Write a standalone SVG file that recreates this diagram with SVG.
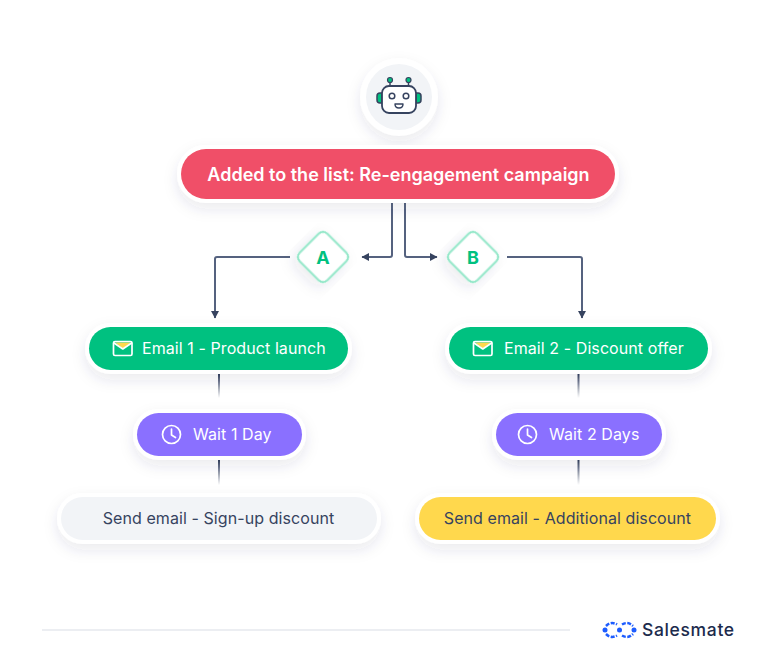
<svg xmlns="http://www.w3.org/2000/svg" width="776" height="669" viewBox="0 0 776 669">
<style>
text{font-family:Inter,"Noto Sans","Liberation Sans",sans-serif}
.pill{stroke:#fff;stroke-width:8;paint-order:stroke;filter:url(#sh)}
.w{fill:#fff;font-size:16px;letter-spacing:.08px}
.d{fill:#36435f;font-size:16px;letter-spacing:.08px}
.c{fill:none;stroke:#55627f;stroke-width:2}
.fade{fill:url(#fd)}
.dia{fill:#fff;stroke:#8de6c6;stroke-width:2;filter:url(#sh)}
.l{fill:#00c180;font-size:18px;font-weight:700;text-anchor:middle}
.ic{fill:none;stroke:#fff;stroke-width:1.7;stroke-linecap:round;stroke-linejoin:round}
</style>
<defs>
<filter id="sh" x="-20%" y="-50%" width="140%" height="220%"><feDropShadow dx="0" dy="6" stdDeviation="7" flood-color="#36435f" flood-opacity=".1"/></filter>
<linearGradient id="fd" x1="0" y1="0" x2="0" y2="1"><stop offset="0" stop-color="#2f3c5a"/><stop offset="1" stop-color="#2f3c5a" stop-opacity="0"/></linearGradient>
<marker id="a" markerWidth="8" markerHeight="8" refX="7" refY="4" orient="auto" markerUnits="userSpaceOnUse"><path d="M0 0L7.500 4L0 8Z" fill="#36435f"/></marker>
</defs>
<g id="connectors">
<path class="c" d="M392 203V255a2 2 0 0 1-2 2H362" marker-end="url(#a)"/>
<path class="c" d="M405 203V255a2 2 0 0 0 2 2H437" marker-end="url(#a)"/>
<path class="c" d="M290 257H217a2 2 0 0 0-2 2V318" marker-end="url(#a)"/>
<path class="c" d="M507 257H580a2 2 0 0 1 2 2V318" marker-end="url(#a)"/>
<rect class="fade" x="218" y="374" width="2" height="24"/>
<rect class="fade" x="218" y="460" width="2" height="25"/>
<rect class="fade" x="577.500" y="374" width="2" height="24"/>
<rect class="fade" x="577.500" y="460" width="2" height="25"/>
</g>
<g id="robot">
<circle cx="399" cy="97" r="39" fill="#fff" filter="url(#sh)"/>
<circle cx="399" cy="97" r="33" fill="#f2f4f7"/>
<path d="M382 93h-2a3 3 0 0 0-3 3v4a3 3 0 0 0 3 3h2zM416 93h2a3 3 0 0 1 3 3v4a3 3 0 0 1-3 3h-2z" fill="#00c180" stroke="#36435f" stroke-width="1.500"/>
<path d="M390 86V81M408.500 86V81" stroke="#36435f" stroke-width="1.500"/>
<circle cx="390" cy="80" r="2.500" fill="#00c180" stroke="#36435f" stroke-width="1.200"/>
<circle cx="408.500" cy="80" r="2.500" fill="#00c180" stroke="#36435f" stroke-width="1.200"/>
<rect x="382" y="86" width="34" height="27" rx="7" fill="#fff" stroke="#36435f" stroke-width="1.800"/>
<circle cx="392" cy="96" r="2.800" fill="#fff" stroke="#36435f" stroke-width="1.500"/>
<circle cx="406" cy="96" r="2.800" fill="#fff" stroke="#36435f" stroke-width="1.500"/>
<path d="M395 104h8c0 2.500-1.800 4-4 4s-4-1.500-4-4z" fill="#fff" stroke="#36435f" stroke-width="1.400" stroke-linejoin="round"/>
</g>
<g id="trigger">
<rect class="pill" x="181" y="149" width="434" height="50" rx="25" fill="#f05067"/>
<text x="398.500" y="181" class="w" text-anchor="middle" style="font-size:18px;font-weight:600;letter-spacing:0">Added to the list: Re-engagement campaign</text>
</g>
<g id="diamond-a">
<rect class="dia" x="303.500" y="237.500" width="39" height="39" rx="6" transform="rotate(45 323 257)"/>
<text x="323" y="264" class="l">A</text>
</g>
<g id="diamond-b">
<rect class="dia" x="453.500" y="237.500" width="39" height="39" rx="6" transform="rotate(45 473 257)"/>
<text x="473" y="264" class="l">B</text>
</g>
<g id="email-1">
<rect class="pill" x="89" y="327" width="259" height="43" rx="21.500" fill="#00c180"/>
<path d="M115 342.500h16l-8 6z" fill="#ffd84d"/>
<rect class="ic" x="113.500" y="341.500" width="18.500" height="14" rx="1.500"/>
<path class="ic" d="M114 343l8.800 6 8.800-6"/>
<text x="142" y="354" class="w">Email 1 - Product launch</text>
</g>
<g id="wait-1">
<rect class="pill" x="137" y="413" width="165" height="43" rx="21.500" fill="#8a6fff"/>
<circle class="ic" cx="171.500" cy="434.500" r="9"/>
<path class="ic" d="M171.500 429v6l4 2.500"/>
<text x="193" y="440" class="w">Wait 1 Day</text>
</g>
<g id="send-1">
<rect class="pill" x="61" y="497" width="316" height="43" rx="21.500" fill="#f2f4f7"/>
<text x="218.500" y="524" class="d" text-anchor="middle">Send email - Sign-up discount</text>
</g>
<g id="email-2">
<rect class="pill" x="449" y="327" width="259" height="43" rx="21.500" fill="#00c180"/>
<path d="M475 342.500h16l-8 6z" fill="#ffd84d"/>
<rect class="ic" x="473.500" y="341.500" width="18.500" height="14" rx="1.500"/>
<path class="ic" d="M474 343l8.800 6 8.800-6"/>
<text x="504" y="354" class="w">Email 2 - Discount offer</text>
</g>
<g id="wait-2">
<rect class="pill" x="496" y="413" width="166" height="43" rx="21.500" fill="#8a6fff"/>
<circle class="ic" cx="527.500" cy="434.500" r="9"/>
<path class="ic" d="M527.500 429v6l4 2.500"/>
<text x="549" y="440" class="w">Wait 2 Days</text>
</g>
<g id="send-2">
<rect class="pill" x="419" y="497" width="297" height="43" rx="21.500" fill="#ffd84d"/>
<text x="567.500" y="524" class="d" text-anchor="middle">Send email - Additional discount</text>
</g>
<g id="footer">
<rect x="42" y="629" width="528" height="2" fill="#eceef2"/>
<path d="M606 626Q611 621 617 624.500M622 624.500Q628 621 633 626M606 634Q611 639 617 635.500M622 635.500Q628 639 633 634" fill="none" stroke="#1d5cff" stroke-width="2.500" stroke-dasharray="4 1.500"/>
<circle cx="605" cy="630" r="2.500" fill="#1d5cff"/><circle cx="619.500" cy="630" r="2.500" fill="#1d5cff"/><circle cx="634" cy="630" r="2.500" fill="#1d5cff"/>
<text x="642" y="636" style="font-size:17.500px;font-weight:500;letter-spacing:.65px" fill="#1c2b4d">Salesmate</text>
</g>
</svg>
